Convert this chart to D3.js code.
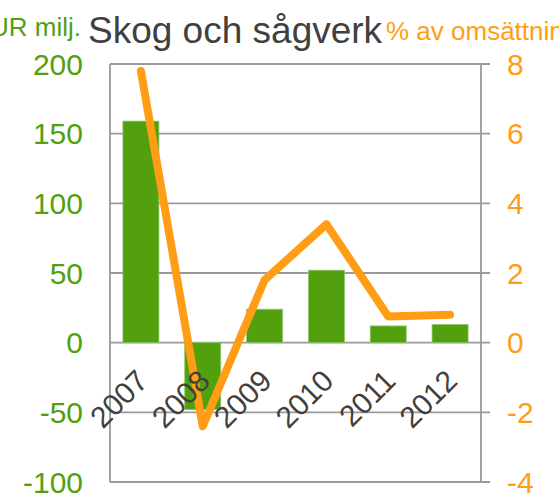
<!DOCTYPE html>
<html>
<head>
<meta charset="utf-8">
<script src="https://cdn.jsdelivr.net/npm/d3@7"></script>
<style>
  html, body { margin: 0; padding: 0; background: #fff; overflow: hidden; }
  svg { display: block; font-family: "Liberation Sans", Arial, sans-serif; }
</style>
</head>
<body>
<div id="chart"></div>
<script>
// values
const years = ['2007', '2008', '2009', '2010', '2011', '2012'];
const resultEUR = [159, -48, 24, 52, 12, 13];        // EUR milj. (bars, left axis)
const resultPct = [7.8, -2.4, 1.8, 3.4, 0.75, 0.8];  // % av omsättning (line, right axis)
const leftTicks = [-100, -50, 0, 50, 100, 150, 200];
const rightTicks = [-4, -2, 0, 2, 4, 6, 8];

const W = 559, H = 504;
const plot = { left: 110, right: 481, top: 64, bottom: 482 };

const green = '#52a00e';
const orange = '#ff9e16';
const gray = '#9a9a9a';
const textGray = '#404040';

const svg = d3.select('#chart')
  .append('svg')
  .attr('width', W)
  .attr('height', H);

const x = d3.scaleBand()
  .domain(years)
  .range([plot.left, plot.right])
  .paddingInner(0.418)
  .paddingOuter(0.209);
const yL = d3.scaleLinear().domain([-100, 200]).range([plot.bottom, plot.top]);
const yR = d3.scaleLinear().domain([-4, 8]).range([plot.bottom, plot.top]);

// gridlines + right ticks
svg.append('g')
  .selectAll('line')
  .data(leftTicks)
  .enter()
  .append('line')
    .attr('x1', plot.left)
    .attr('x2', plot.right + 9)
    .attr('y1', d => yL(d))
    .attr('y2', d => yL(d))
    .attr('stroke', gray)
    .attr('stroke-width', 1.8);

// frame verticals
svg.append('line')
  .attr('x1', plot.left).attr('x2', plot.left)
  .attr('y1', plot.top).attr('y2', plot.bottom)
  .attr('stroke', gray).attr('stroke-width', 1.8);
svg.append('line')
  .attr('x1', plot.right).attr('x2', plot.right)
  .attr('y1', plot.top).attr('y2', plot.bottom)
  .attr('stroke', gray).attr('stroke-width', 1.8);

// left axis labels
svg.append('g')
  .selectAll('text')
  .data(leftTicks)
  .enter()
  .append('text')
    .attr('x', 83)
    .attr('y', d => yL(d))
    .attr('dy', '0.36em')
    .attr('text-anchor', 'end')
    .attr('font-size', 30)
    .attr('fill', green)
    .text(d => d);

// right axis labels
svg.append('g')
  .selectAll('text')
  .data(rightTicks)
  .enter()
  .append('text')
    .attr('x', 507)
    .attr('y', d => yR(d))
    .attr('dy', '0.36em')
    .attr('text-anchor', 'start')
    .attr('font-size', 30)
    .attr('fill', orange)
    .text(d => d);

// bars
svg.append('g')
  .selectAll('rect')
  .data(resultEUR)
  .enter()
  .append('rect')
    .attr('x', (d, i) => x(years[i]))
    .attr('y', d => yL(Math.max(0, d)))
    .attr('width', x.bandwidth())
    .attr('height', d => Math.abs(yL(d) - yL(0)))
    .attr('fill', green)
    .attr('stroke', '#8cc46a')
    .attr('stroke-width', 0.8);

// line
const line = d3.line()
  .x((d, i) => x(years[i]) + x.bandwidth() / 2)
  .y(d => yR(d));

svg.append('path')
  .datum(resultPct)
  .attr('d', line)
  .attr('fill', 'none')
  .attr('stroke', orange)
  .attr('stroke-width', 8)
  .attr('stroke-linecap', 'round')
  .attr('stroke-linejoin', 'round');

// category labels, rotated (drawn over the line, like the original)
svg.append('g')
  .selectAll('text')
  .data(years)
  .enter()
  .append('text')
    .attr('transform', d => `translate(${x(d) + x.bandwidth() / 2 + 9}, ${yL(0) + 40}) rotate(-45)`)
    .attr('text-anchor', 'end')
    .attr('font-size', 30)
    .attr('fill', textGray)
    .text(d => d);

// titles
svg.append('text')
  .attr('x', 81).attr('y', 36)
  .attr('text-anchor', 'end')
  .attr('font-size', 26)
  .attr('fill', green)
  .text('EUR milj.');
svg.append('text')
  .attr('x', 88).attr('y', 43)
  .attr('font-size', 37)
  .attr('fill', textGray)
  .text('Skog och sågverk');
svg.append('text')
  .attr('x', 386).attr('y', 40)
  .attr('font-size', 26)
  .attr('fill', orange)
  .text('% av omsättning');
</script>
</body>
</html>
